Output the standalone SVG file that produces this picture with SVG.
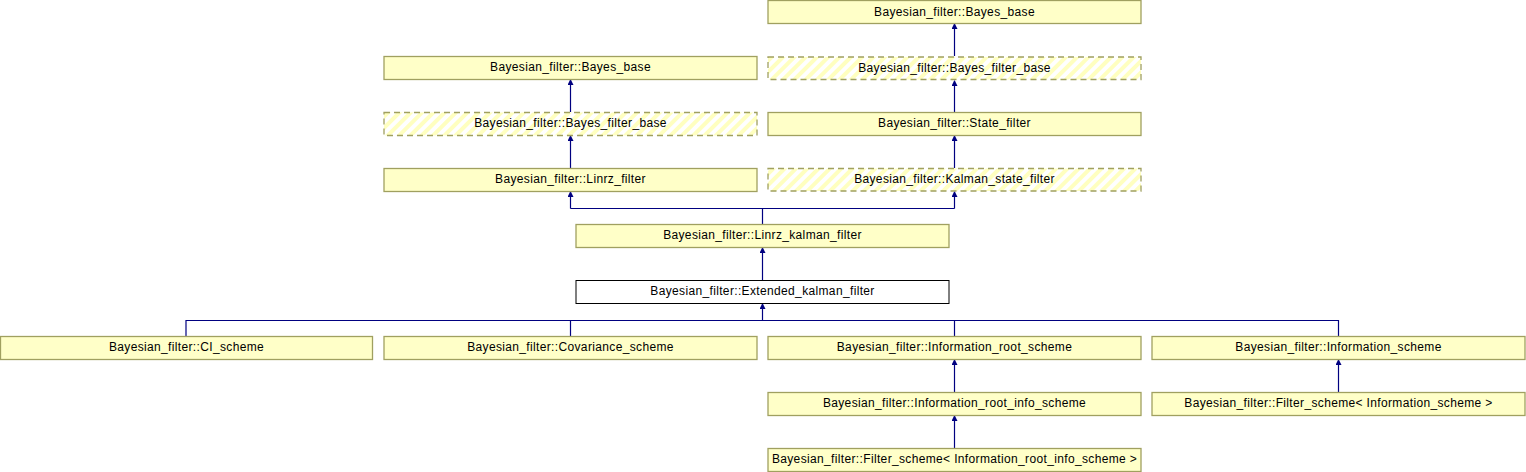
<svg xmlns="http://www.w3.org/2000/svg" width="1526" height="472" viewBox="0 0 1526 472">
<style>
.n{fill:#ffffc8;stroke:#a0a060;stroke-width:1.3}
.h{fill:url(#hatch);stroke:#a0a060;stroke-width:1.3;stroke-dasharray:6,4}
.w{fill:#ffffff;stroke:#000000;stroke-width:1}
text{font-family:"Liberation Sans",Arial,sans-serif;font-size:12px;letter-spacing:0.35px;fill:#000;text-anchor:middle}
.e{fill:none;stroke:#000080;stroke-width:1.2;marker-end:url(#ah)}
.l{fill:none;stroke:#000080;stroke-width:1.2}
</style>
<defs>
<pattern id="hatch" width="8" height="8" patternUnits="userSpaceOnUse" patternTransform="rotate(45)">
<rect width="8" height="8" fill="#ffffff"/>
<rect width="4" height="8" fill="#ffffc0"/>
</pattern>
<marker id="ah" markerWidth="6" markerHeight="8" refX="5" refY="3" orient="auto" markerUnits="userSpaceOnUse">
<path d="M0,0 L6,3 L0,6 z" fill="#000080"/>
</marker>
</defs>
<g id="connectors">
<path class="e" d="M954.5,56 V24"/>
<path class="e" d="M954.5,112 V81"/>
<path class="e" d="M954.5,168 V136"/>
<path class="e" d="M570.5,112 V80"/>
<path class="e" d="M570.5,168 V136"/>
<path class="l" d="M762.5,224 V208.5 H570.5"/>
<path class="e" d="M570.5,208.5 V192"/>
<path class="l" d="M762.5,208.5 H954.5"/>
<path class="e" d="M954.5,208.5 V192"/>
<path class="e" d="M762.5,280 V248"/>
<path class="l" d="M186,336 V320.5 H1338.5 V336"/>
<path class="l" d="M570.5,336 V320.5"/>
<path class="l" d="M954.5,336 V320.5"/>
<path class="e" d="M762.5,320.5 V304"/>
<path class="e" d="M954.5,392 V360"/>
<path class="e" d="M1338.5,392 V360"/>
<path class="e" d="M954.5,448 V416"/>
</g>
<g id="n_bayes_base_r"><rect class="n" x="768" y="0.5" width="373" height="23"/><text x="954.5" y="15.5">Bayesian_filter::Bayes_base</text></g>
<g id="n_bayes_filter_base_r"><rect class="h" x="768" y="57" width="373" height="22.5"/><text x="954.5" y="71.5">Bayesian_filter::Bayes_filter_base</text></g>
<g id="n_state_filter"><rect class="n" x="768" y="112.5" width="373" height="23"/><text x="954.5" y="127">Bayesian_filter::State_filter</text></g>
<g id="n_kalman_state_filter"><rect class="h" x="768" y="168.5" width="373" height="22.5"/><text x="954.5" y="183">Bayesian_filter::Kalman_state_filter</text></g>
<g id="n_bayes_base_l"><rect class="n" x="384" y="56.5" width="373" height="23"/><text x="570.5" y="71">Bayesian_filter::Bayes_base</text></g>
<g id="n_bayes_filter_base_l"><rect class="h" x="384" y="112.5" width="373" height="23"/><text x="570.5" y="127">Bayesian_filter::Bayes_filter_base</text></g>
<g id="n_linrz_filter"><rect class="n" x="384" y="168.5" width="373" height="23"/><text x="570.5" y="183">Bayesian_filter::Linrz_filter</text></g>
<g id="n_linrz_kalman_filter"><rect class="n" x="576" y="224.5" width="373" height="23"/><text x="762.5" y="239">Bayesian_filter::Linrz_kalman_filter</text></g>
<g id="n_extended_kalman_filter"><rect class="w" x="576" y="280.5" width="373" height="23"/><text x="762.5" y="295">Bayesian_filter::Extended_kalman_filter</text></g>
<g id="n_ci_scheme"><rect class="n" x="0.5" y="336.5" width="372" height="23"/><text x="186.5" y="351">Bayesian_filter::CI_scheme</text></g>
<g id="n_covariance_scheme"><rect class="n" x="384" y="336.5" width="373" height="23"/><text x="570.5" y="351">Bayesian_filter::Covariance_scheme</text></g>
<g id="n_information_root_scheme"><rect class="n" x="768" y="336.5" width="373" height="23"/><text x="954.5" y="351">Bayesian_filter::Information_root_scheme</text></g>
<g id="n_information_scheme"><rect class="n" x="1152" y="336.5" width="373" height="23"/><text x="1338.5" y="351">Bayesian_filter::Information_scheme</text></g>
<g id="n_information_root_info_scheme"><rect class="n" x="768" y="392.5" width="373" height="23"/><text x="954.5" y="407">Bayesian_filter::Information_root_info_scheme</text></g>
<g id="n_filter_scheme_info"><rect class="n" x="1152" y="392.5" width="373" height="23"/><text x="1338.5" y="407">Bayesian_filter::Filter_scheme&lt; Information_scheme &gt;</text></g>
<g id="n_filter_scheme_root_info"><rect class="n" x="768" y="448.5" width="373" height="23"/><text x="954.5" y="463">Bayesian_filter::Filter_scheme&lt; Information_root_info_scheme &gt;</text></g>
</svg>
